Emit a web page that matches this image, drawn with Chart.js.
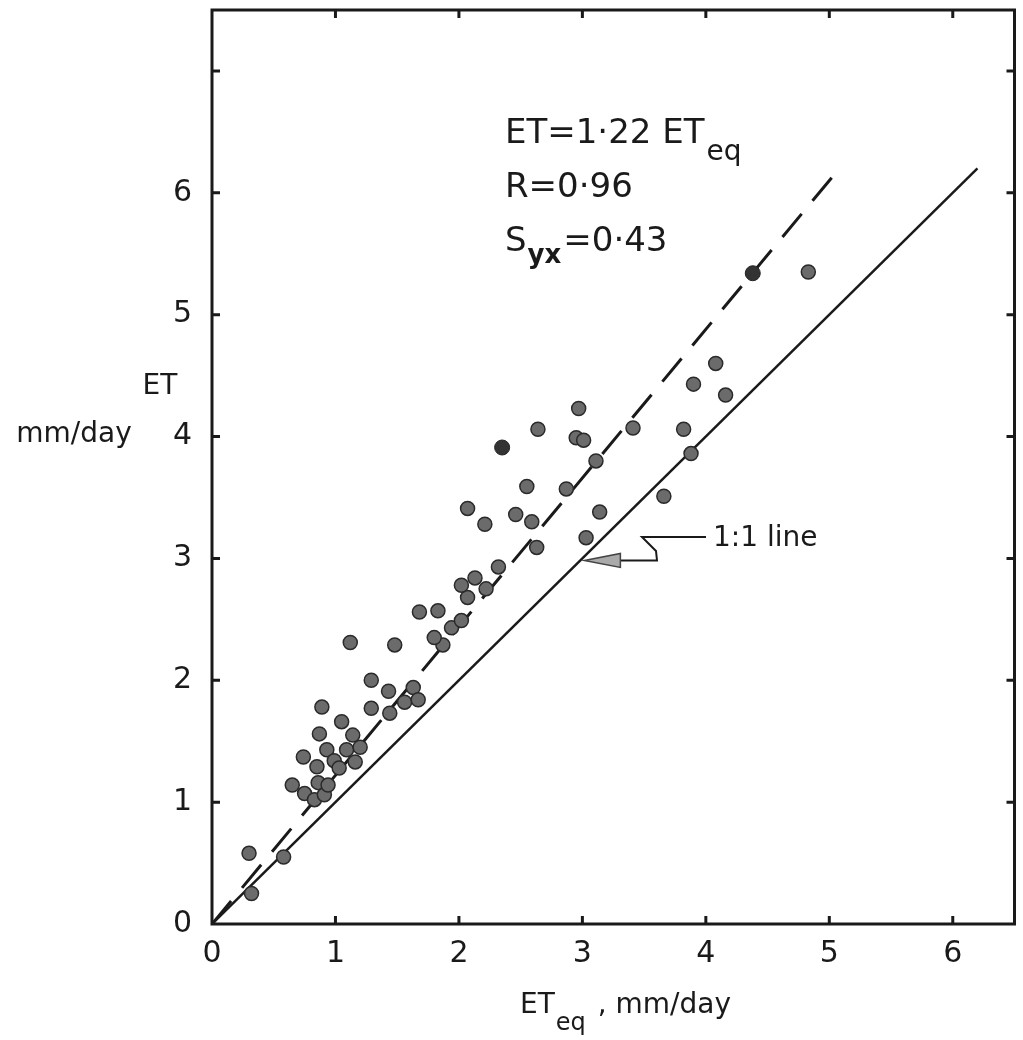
<!DOCTYPE html>
<html>
<head>
<meta charset="utf-8">
<script src="https://cdn.jsdelivr.net/npm/chart.js@4.4.1/dist/chart.umd.min.js"></script>
<style>
  html, body { margin: 0; padding: 0; background: #fff; }
  #wrap { width: 1023px; height: 1040px; }
</style>
</head>
<body>
<div id="wrap"><canvas id="chart"></canvas></div>
<script>
// measured points, ET_eq (x) vs ET (y), mm/day
const etEq = [
  0.32, 0.30, 0.58, 0.65, 0.75, 0.83, 0.86, 0.91, 0.94, 0.74,
  0.85, 0.93, 0.99, 1.03, 1.09, 1.16, 1.20, 1.14, 0.87, 1.05,
  0.89, 1.29, 1.44, 1.29, 1.43, 1.56, 1.63, 1.67, 1.12, 1.48,
  1.87, 1.80, 1.94, 2.02, 1.68, 1.83, 2.07, 2.02, 2.13, 2.22,
  2.32, 2.63, 2.21, 2.07, 2.46, 2.59, 2.55, 2.87, 3.03, 3.14,
  3.11, 2.95, 3.01, 2.64, 2.97, 3.41, 3.82, 3.88, 3.66, 3.90,
  4.08, 4.16, 4.83
]
const et = [
  0.25, 0.58, 0.55, 1.14, 1.07, 1.02, 1.16, 1.06, 1.14, 1.37,
  1.29, 1.43, 1.34, 1.28, 1.43, 1.33, 1.45, 1.55, 1.56, 1.66,
  1.78, 1.77, 1.73, 2.00, 1.91, 1.82, 1.94, 1.84, 2.31, 2.29,
  2.29, 2.35, 2.43, 2.49, 2.56, 2.57, 2.68, 2.78, 2.84, 2.75,
  2.93, 3.09, 3.28, 3.41, 3.36, 3.30, 3.59, 3.57, 3.17, 3.38,
  3.80, 3.99, 3.97, 4.06, 4.23, 4.07, 4.06, 3.86, 3.51, 4.43,
  4.60, 4.34, 5.35
]
// the two solid black dots
const darkEtEq = [2.35, 4.38]
const darkEt = [3.91, 5.34]

// regression ET = 1.22 ET_eq and the 1:1 line
const slope = 1.22
const regX = [0, 5.05]
const oneToOneX = [0, 6.2]

const xTicks = [0, 1, 2, 3, 4, 5, 6]
const yTicks = [0, 1, 2, 3, 4, 5, 6, 7]

const FONT = '"DejaVu Sans", sans-serif'
const INK = '#1a1a1a'

const toPts = (xs, ys) => xs.map((x, i) => ({ x: x, y: ys[i] }))

const framePlugin = {
  id: 'frame',
  afterDraw(chart) {
    const c = chart.ctx
    const a = chart.chartArea
    const xs = chart.scales.x
    const ys = chart.scales.y
    c.save()
    c.strokeStyle = INK
    c.lineWidth = 3
    c.strokeRect(a.left, a.top, a.right - a.left, a.bottom - a.top)

    // inward ticks on all four sides
    c.lineWidth = 3
    xTicks.slice(1).forEach(v => {
      const px = xs.getPixelForValue(v)
      c.beginPath()
      c.moveTo(px, a.bottom); c.lineTo(px, a.bottom - 8)
      c.moveTo(px, a.top); c.lineTo(px, a.top + 8)
      c.stroke()
    })
    yTicks.slice(1).forEach(v => {
      const py = ys.getPixelForValue(v)
      c.beginPath()
      c.moveTo(a.left, py); c.lineTo(a.left + 8, py)
      c.moveTo(a.right, py); c.lineTo(a.right - 8, py)
      c.stroke()
    })

    c.fillStyle = INK
    c.textBaseline = 'alphabetic'
    c.textAlign = 'left'

    // equation block
    let x0 = 505
    c.font = '34px ' + FONT
    c.fillText('ET=1·22 ET', x0, 143)
    let w = c.measureText('ET=1·22 ET').width
    c.font = '28px ' + FONT
    c.fillText('eq', x0 + w + 2, 160)
    c.font = '34px ' + FONT
    c.fillText('R=0·96', x0, 197)
    c.fillText('S', x0, 251)
    w = c.measureText('S').width
    c.font = 'bold 26px ' + FONT
    c.fillText('yx', x0 + w + 1, 263)
    const w2 = c.measureText('yx').width
    c.font = '34px ' + FONT
    c.fillText('=0·43', x0 + w + w2 + 3, 251)

    // 1:1 line label with arrow pointing at (3,3)
    const tx = xs.getPixelForValue(3) + 2
    const ty = ys.getPixelForValue(3) + 2
    c.font = '28px ' + FONT
    c.fillText('1:1 line', 713, 546)
    c.lineWidth = 2
    c.beginPath()
    c.moveTo(706, 537)
    c.lineTo(642, 537)
    c.lineTo(656, 551)
    c.lineTo(657, ty)
    c.lineTo(tx + 34, ty)
    c.stroke()
    c.beginPath()
    c.moveTo(tx, ty)
    c.lineTo(tx + 36, ty - 7)
    c.lineTo(tx + 36, ty + 7)
    c.closePath()
    c.fillStyle = '#aaa'
    c.fill()
    c.strokeStyle = '#444'
    c.lineWidth = 1.5
    c.stroke()

    // axis titles
    c.fillStyle = INK
    c.font = '28px ' + FONT
    c.textAlign = 'center'
    c.fillText('ET', 160, 394)
    c.fillText('mm/day', 74, 442)

    c.textAlign = 'left'
    const bx = 520
    c.fillText('ET', bx, 1013)
    w = c.measureText('ET').width
    c.font = '24px ' + FONT
    c.fillText('eq', bx + w + 1, 1030)
    const w3 = c.measureText('eq').width
    c.font = '28px ' + FONT
    c.fillText(' , mm/day', bx + w + w3 + 4, 1013)
    c.restore()
  }
}

new Chart(document.getElementById('chart'), {
  type: 'scatter',
  data: {
    datasets: [
      {
        label: 'points',
        data: toPts(etEq, et),
        pointRadius: 7,
        pointBackgroundColor: '#6b6b6b',
        pointBorderColor: '#2a2a2a',
        pointBorderWidth: 1.5
      },
      {
        label: 'dark',
        data: toPts(darkEtEq, darkEt),
        pointRadius: 7.5,
        pointBackgroundColor: '#333',
        pointBorderColor: '#222',
        pointBorderWidth: 1
      },
      {
        type: 'line',
        label: 'regression',
        data: regX.map(x => ({ x: x, y: slope * x })),
        borderColor: INK,
        borderWidth: 3,
        borderDash: [30, 17],
        pointRadius: 0,
        fill: false
      },
      {
        type: 'line',
        label: '1:1',
        data: oneToOneX.map(x => ({ x: x, y: x })),
        borderColor: INK,
        borderWidth: 2.5,
        pointRadius: 0,
        fill: false
      }
    ]
  },
  options: {
    responsive: true,
    maintainAspectRatio: false,
    animation: false,
    layout: { padding: { top: 10, right: 8, left: 0, bottom: 0 } },
    plugins: {
      legend: { display: false },
      tooltip: { enabled: false }
    },
    scales: {
      x: {
        type: 'linear',
        min: 0,
        max: 6.5,
        afterFit: s => { s.height = 116; s.paddingLeft = 0; s.paddingRight = 0 },
        grid: { display: false, drawTicks: false },
        border: { display: false },
        ticks: {
          stepSize: 1,
          includeBounds: false,
          padding: 12,
          color: INK,
          font: { family: FONT, size: 30 },
          callback: v => xTicks.includes(v) ? v : ''
        }
      },
      y: {
        type: 'linear',
        min: 0,
        max: 7.5,
        afterFit: s => { s.width = 212; s.paddingTop = 0; s.paddingBottom = 0 },
        grid: { display: false, drawTicks: false },
        border: { display: false },
        ticks: {
          stepSize: 1,
          includeBounds: false,
          padding: 20,
          color: INK,
          font: { family: FONT, size: 30 },
          callback: v => v <= 6 ? v : ''
        }
      }
    }
  },
  plugins: [framePlugin]
})
</script>
</body>
</html>
